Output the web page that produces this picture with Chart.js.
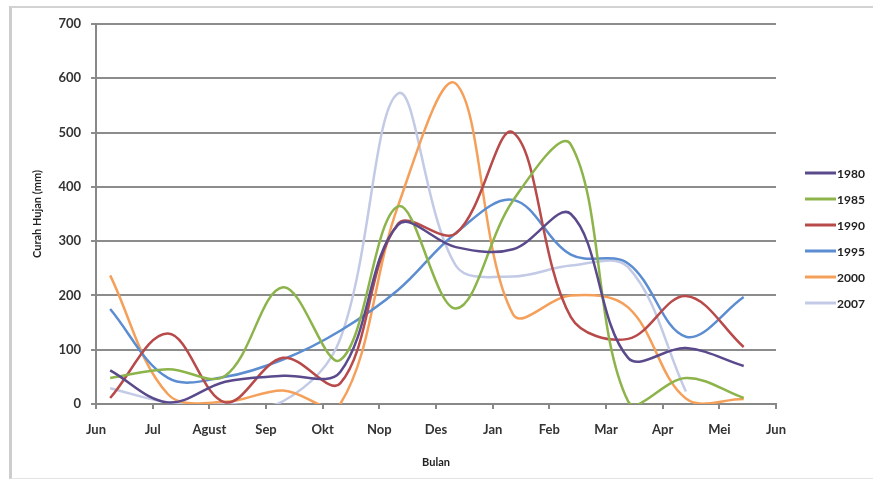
<!DOCTYPE html>
<html><head><meta charset="utf-8">
<script src="https://cdn.jsdelivr.net/npm/chart.js@4"></script>
<style>
html,body{margin:0;padding:0;background:#fff;}
#wrap{position:relative;width:873px;height:485px;overflow:hidden;}
#frame{position:absolute;left:9px;top:6px;width:880px;height:473px;border-left:3px solid #cdcdcd;border-top:2px solid #d2d2d2;border-bottom:1px solid #e4e4e4;box-sizing:border-box;}
canvas{position:absolute;left:0;top:0;}
</style></head>
<body><div id="wrap"><div id="frame"></div><canvas id="c" width="873" height="485"></canvas></div>
<script>
// Tick labels (month boundaries) and x positions of the monthly data points
const monthLabels = ['Jun','Jul','Agust','Sep','Okt','Nop','Des','Jan','Feb','Mar','Apr','Mei','Jun'];
const monthPos = [0.25, 1.27, 2.28, 3.30, 4.31, 5.33, 6.35, 7.36, 8.38, 9.39, 10.41, 11.43];
const years = ['1980','1985','1990','1995','2000','2007'];
const yTicks = [0,100,200,300,400,500,600,700];

// Rainfall (mm) per year
const s1980 = [62, 3, 41, 52, 59, 330, 289, 285, 350, 85, 103, 70];
const s1985 = [48, 64, 52, 215, 81, 364, 176, 375, 478, 5, 48, 11];
const s1990 = [11, 130, 3, 85, 38, 332, 314, 500, 160, 120, 199, 105];
const s1995 = [175, 48, 50, 82, 135, 210, 315, 376, 275, 259, 124, 197];
const s2000 = [237, 18, 4, 25, 0, 365, 590, 165, 200, 178, 10, 9];
const s2007 = [29, 3, 0, 5, 120, 572, 255, 235, 255, 252, 23];

const seriesValues = [s1980, s1985, s1990, s1995, s2000, s2007];
const colors = ['#5a4a8c','#8cb44a','#b84a4a','#5b8dd0','#f5a05a','#c2cae6'];

const datasets = seriesValues.map((vals, i) => ({
  label: years[i],
  data: vals.map((v, j) => ({x: monthPos[j], y: v})),
  borderColor: colors[i],
  backgroundColor: colors[i],
  borderWidth: 2.5,
  pointRadius: 0,
  fill: false,
  tension: 0.36,
  cubicInterpolationMode: 'default'
}));

const sideLegend = {
  id: 'sideLegend',
  afterDraw(chart) {
    const ctx = chart.ctx;
    ctx.save();
    chart.data.datasets.forEach((ds, i) => {
      const y = 173 + i * 26;
      ctx.strokeStyle = ds.borderColor;
      ctx.lineWidth = 3;
      ctx.beginPath(); ctx.moveTo(805, y); ctx.lineTo(836, y); ctx.stroke();
      ctx.fillStyle = '#222';
      ctx.font = 'bold 12px Lato';
      ctx.textBaseline = 'middle';
      ctx.textAlign = 'left';
      ctx.fillText(ds.label, 837, y + 1);
    });
    ctx.restore();
  }
};

new Chart(document.getElementById('c'), {
  type: 'line',
  data: { datasets },
  options: {
    responsive: false,
    animation: false,
    devicePixelRatio: 1,
    layout: { padding: { left: 0, top: 24, right: 97, bottom: 0 } },
    elements: { line: { capBezierPoints: false } },
    plugins: { legend: { display: false }, tooltip: { enabled: false } },
    scales: {
      x: {
        type: 'linear', min: 0, max: 12,
        afterFit(s) { s.height = 81; },
        afterBuildTicks(s) { s.ticks = monthLabels.map((_, i) => ({ value: i })); },
        ticks: {
          autoSkip: false, maxRotation: 0, padding: 13,
          color: '#333', font: { family: 'Lato', size: 13, weight: 'bold' },
          callback: v => monthLabels[v]
        },
        grid: { drawOnChartArea: false, color: '#888', lineWidth: 2, tickLength: 5 },
        border: { color: '#888', width: 2 },
        title: { display: true, text: 'Bulan', color: '#222', font: { family: 'Lato', size: 11, weight: 'bold' }, padding: { top: 0, bottom: 16 } }
      },
      y: {
        min: 0, max: 700,
        afterFit(s) { s.width = 96; },
        afterBuildTicks(s) { s.ticks = yTicks.map(v => ({ value: v })); },
        ticks: { padding: 10, color: '#333', font: { family: 'Lato', size: 13, weight: 'bold' } },
        grid: { color: '#8c8c8c', lineWidth: 2, tickLength: 5 },
        border: { color: '#888', width: 2 },
        title: { display: true, text: 'Curah Hujan (mm)', color: '#222', font: { family: 'Lato', size: 11, weight: 'bold' }, padding: { top: 31, bottom: 0 } }
      }
    }
  },
  plugins: [sideLegend]
});
</script>
</body></html>
